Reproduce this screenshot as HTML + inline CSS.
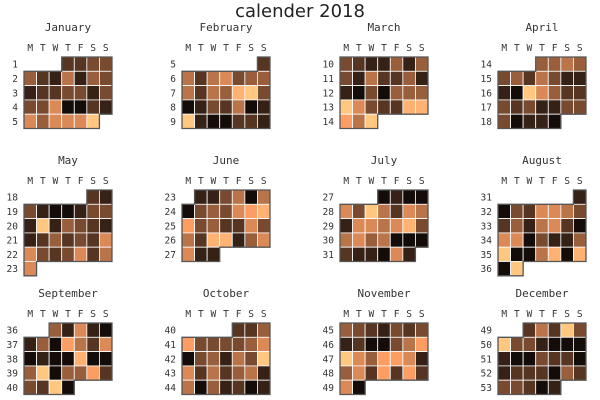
<!DOCTYPE html>
<html><head><meta charset="utf-8"><style>
html,body{margin:0;padding:0;background:#fff;}
svg{display:block;}
text{font-family:"DejaVu Sans Mono","Liberation Mono",monospace;fill:#333;}
</style></head><body>
<svg id="chart" width="600" height="400">
<text x="300" y="17" text-anchor="middle" font-size="18" style="font-family:'DejaVu Sans','Liberation Sans',sans-serif;fill:#222">calender 2018</text>
</svg>
<script>
const monthNames=["January","February","March","April","May","June","July","August","September","October","November","December"];
const monthStartDow=[3,6,0,3,5,1,3,6,2,4,0,2];
const monthStartWeek=[1,5,10,14,18,23,27,31,36,40,45,49];
const dayLetters=["M","T","W","T","F","S","S"];
const janVals=[2,2,3,3, 4,2,1,5,1,4,3, 1,2,2,3,3,1,3, 3,3,6,0,0,2,1, 6,4,6,6,6,9];
const febVals=[2, 5,2,5,6,3,4,4, 5,2,5,4,8,9,3, 0,1,3,2,5,0,1, 9,1,0,0,2,2,1];
const marVals=[3,2,1,1,4,1,4, 3,1,5,2,2,4,1, 1,0,3,0,4,4,4, 9,6,3,2,2,8,8, 7,5,9];
const aprVals=[4,4,5,4, 3,4,2,5,3,1,1, 1,0,9,6,4,2,2, 3,2,3,1,1,3,3, 3,0,1,1,0];
const mayVals=[2,1, 3,1,0,0,1,3,3, 1,9,1,4,3,2,1, 1,2,4,2,3,2,6, 6,3,2,3,6,2,5, 6];
const junVals=[1,1,3,5,0,5, 0,3,4,3,6,7,8, 7,3,4,2,2,6,3, 5,2,8,8,1,4,6, 6,1,1];
const julVals=[0,1,0,0, 6,3,9,5,2,6,5, 1,6,6,5,6,8,3, 5,6,4,5,0,0,0, 2,1,1,0,6,1];
const augVals=[1, 0,3,2,6,6,5,3, 2,4,1,5,6,2,0, 6,6,0,3,1,1,4, 9,0,0,5,8,0,8, 0,9];
const sepVals=[4,1,6,1,0, 1,4,0,7,5,2,6, 0,1,0,0,8,0,0, 4,9,0,4,4,7,2, 3,2,9,0];
const octVals=[2,2,4, 7,3,3,3,3,4,6, 0,3,4,1,5,3,9, 6,2,5,2,4,5,1, 5,0,4,1,2,0,1];
const novVals=[4,3,2,1,3,2,3, 1,2,0,0,3,5,7, 9,6,4,7,7,6,1, 4,6,2,7,2,7,2, 6,0];
const decVals=[2,5,2,9,3, 9,3,3,1,0,0,0, 1,0,0,3,2,2,0, 1,2,2,2,0,4,2, 3,3,2,0,1];
const allVals=[janVals,febVals,marVals,aprVals,mayVals,junVals,julVals,augVals,sepVals,octVals,novVals,decVals];
const vMax=9;

const svg=document.getElementById('chart');
const NS='http://www.w3.org/2000/svg';
const CW=12.57, CH=14.3;
const panelX=[24,182,340,498], panelY=[57,190,323];
function copper(v){const t=(v+0.6)/(vMax+0.6);return `rgb(${Math.round(255*Math.min(1,1.25*t))},${Math.round(255*0.7812*t)},${Math.round(255*0.4975*t)})`;}
function mk(tag,attrs){const e=document.createElementNS(NS,tag);for(const k in attrs)e.setAttribute(k,attrs[k]);svg.appendChild(e);return e;}

for(let m=0;m<12;m++){
  const gx=panelX[m%4], gy=panelY[Math.floor(m/4)];
  const vals=allVals[m], s=monthStartDow[m];
  const t=mk('text',{x:gx+44,y:gy-26,'text-anchor':'middle','font-size':'11'});
  t.textContent=monthNames[m];
  
  
  for(let d=0;d<7;d++){
    const l=mk('text',{x:gx+CW*(d+0.5),y:gy-6,'text-anchor':'middle','font-size':'9.5'});
    l.textContent=dayLetters[d];
    
    
  }
  let lastRow=0,lastCol=0;
  for(let i=0;i<vals.length;i++){
    const p=s+i, r=Math.floor(p/7), c=p%7;
    lastRow=r; lastCol=c;
    const rect=mk('rect',{x:gx+c*CW,y:gy+r*CH,width:CW,height:CH,fill:copper(vals[i]),stroke:'#fff','stroke-width':'0.8'});
    
    
  }
  const R=lastRow+1;
  for(let r=0;r<R;r++){
    const w=mk('text',{x:gx-6,y:gy+r*CH+CH/2+3.5,'text-anchor':'end','font-size':'9.5'});
    w.textContent=monthStartWeek[m]+r;
    
    
  }
  const X=c=>gx+c*CW, Y=r=>gy+r*CH, e=lastCol+1;
  const pts=[[X(s),Y(0)],[X(7),Y(0)],[X(7),Y(R-1)],[X(e),Y(R-1)],[X(e),Y(R)],[X(0),Y(R)],[X(0),Y(1)],[X(s),Y(1)]];
  const poly=mk('polygon',{points:pts.map(p=>p.join(',')).join(' '),fill:'none',stroke:'#555','stroke-width':'1.3'});
  
  
}
</script>
</body></html>
